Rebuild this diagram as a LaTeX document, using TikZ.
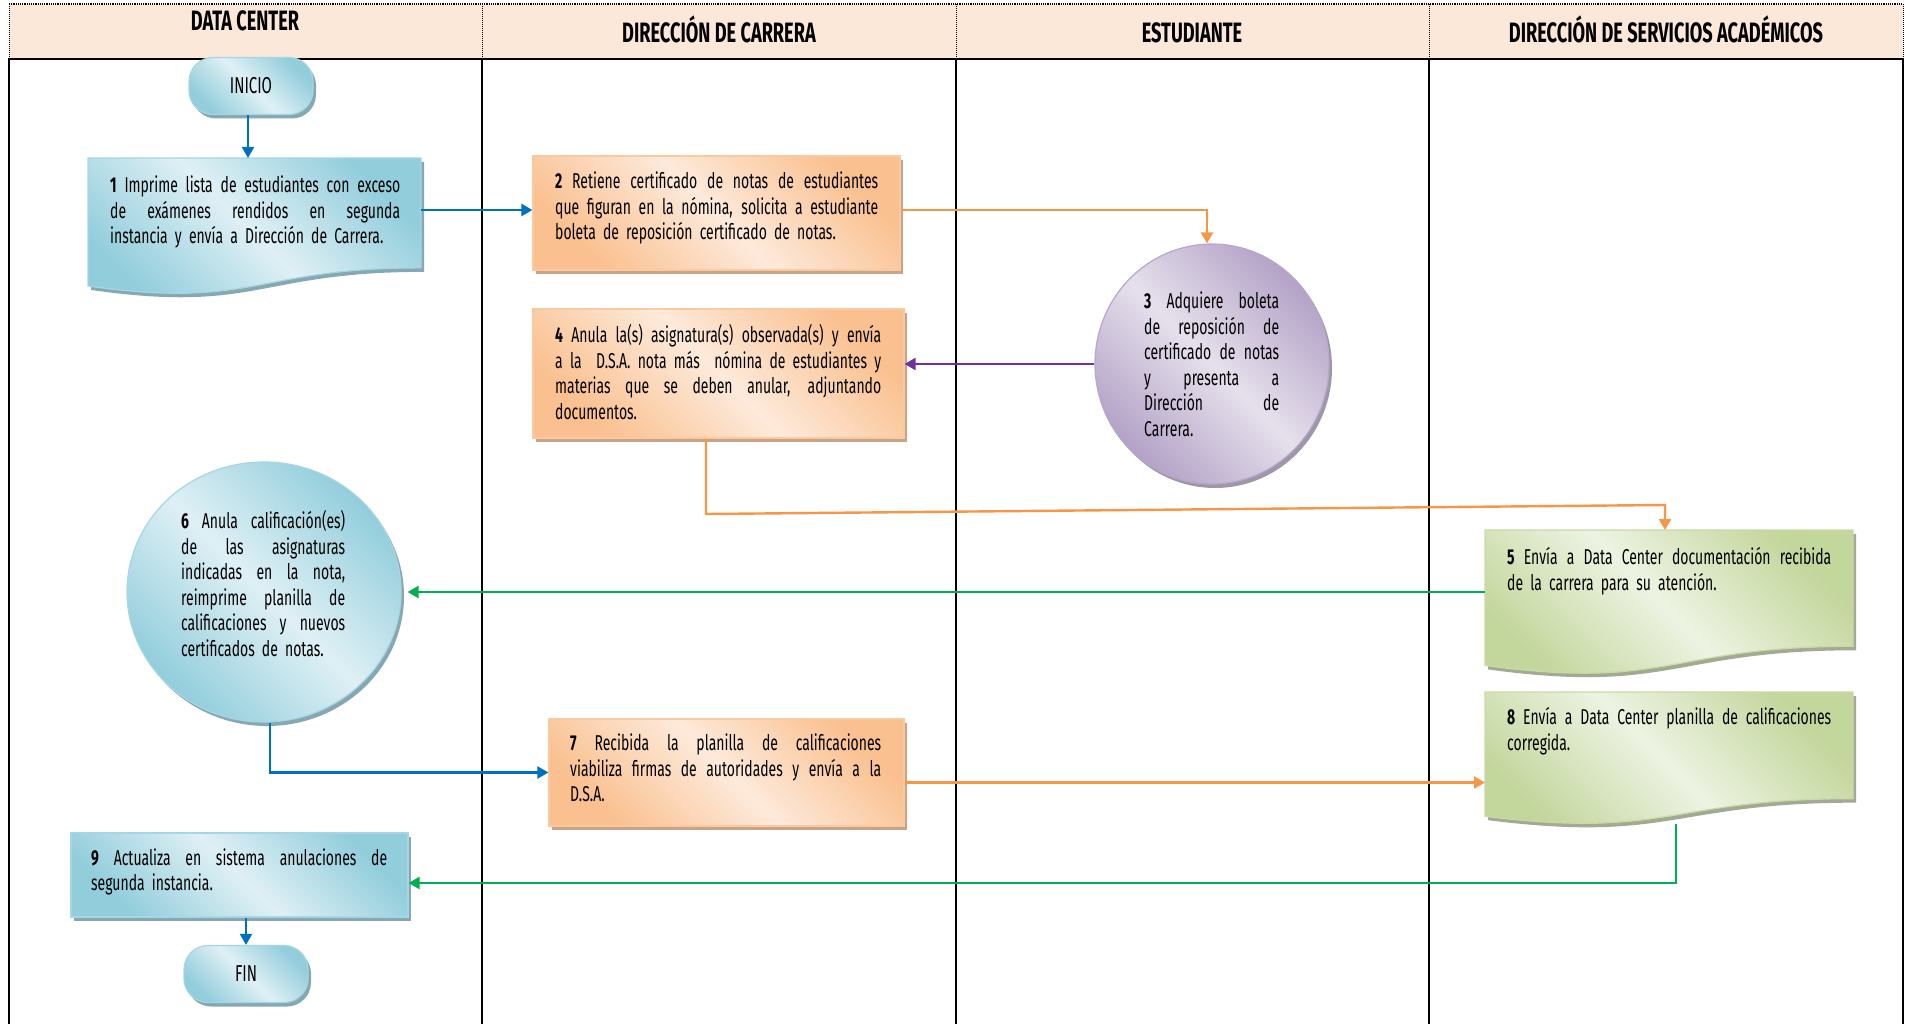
\documentclass[tikz,border=0pt]{standalone}
\usepackage{fontspec}
\setmainfont{Fira Sans}[FakeStretch=0.65]
\usetikzlibrary{arrows.meta,shapes.geometric,shadows}

\definecolor{hdrfill}{HTML}{FCE8D8}
\definecolor{bluedark}{HTML}{92CDDC}
\definecolor{bluelight}{HTML}{DFF0F5}
\definecolor{blueedge}{HTML}{A6D6E3}
\definecolor{blueshadow}{HTML}{86A8B3}
\definecolor{orangedark}{HTML}{FAC08F}
\definecolor{orangelight}{HTML}{FDEADB}
\definecolor{orangeedge}{HTML}{FBC9A0}
\definecolor{orangeshadow}{HTML}{C9A386}
\definecolor{purpledark}{HTML}{B3A2C7}
\definecolor{purplelight}{HTML}{E6E0EC}
\definecolor{purpleedge}{HTML}{B7A7CB}
\definecolor{purpleshadow}{HTML}{9E97A8}
\definecolor{greendark}{HTML}{C3D69B}
\definecolor{greenlight}{HTML}{EDF3E2}
\definecolor{greenedge}{HTML}{C9DAA5}
\definecolor{greenshadow}{HTML}{A3AA94}
\definecolor{cblue}{HTML}{0070C0}
\definecolor{corange}{HTML}{F79646}
\definecolor{cpurple}{HTML}{7030A0}
\definecolor{cgreen}{HTML}{00B050}

% justified line of a text block (block width is kept in \tw)
\newcommand\tw{100pt}
\newcommand\jl[1]{\makebox[\tw][s]{\spaceskip=\fontdimen2\font plus 1fil\relax#1}\\}

% flowchart "document" symbol: colour family, x0, y0, width, height
\newcommand\flowdoc[5]{%
  \fill[#1shadow, shift={(3pt,-4pt)}]
    (#2,#3) -- (#2+#4,#3) -- (#2+#4,#3+0.802*#5)
    .. controls (#2+0.5*#4,#3+0.802*#5) and (#2+0.5*#4,#3+1.1075*#5) .. (#2,#3+0.934*#5) -- cycle;
  \path[draw=#1edge, line width=1.2pt, top color=#1dark, bottom color=#1dark,
        middle color=#1light, shading angle=-45]
    (#2,#3) -- (#2+#4,#3) -- (#2+#4,#3+0.802*#5)
    .. controls (#2+0.5*#4,#3+0.802*#5) and (#2+0.5*#4,#3+1.1075*#5) .. (#2,#3+0.934*#5) -- cycle;
}

\tikzset{
  fill3/.style={draw=#1edge, line width=1.2pt, top color=#1dark, bottom color=#1dark,
        middle color=#1light, shading angle=-45,
        general shadow={fill=#1shadow, shadow xshift=3pt, shadow yshift=-4pt}},
  procbox/.style={rectangle, inner sep=0, fill3=#1},
  oval/.style={ellipse, inner sep=0, fill3=#1},
  term/.style={rectangle, rounded corners=24pt, inner sep=0, minimum width=124pt,
        minimum height=57pt, fill3=blue, font=\fontsize{23}{25}\selectfont},
  txt/.style={anchor=base west, inner sep=0, align=left, text width=#1,
        execute at begin node={\renewcommand\tw{#1}},
        font=\fontsize{21.5}{25.6}\selectfont},
  lanehead/.style={font=\bfseries\fontsize{28}{30}\selectfont, inner sep=0, anchor=base},
  docanchor/.style={inner sep=0, anchor=north west, draw=none},
  flow/.style={line width=2.4pt, draw=#1, -{Triangle[length=11pt,width=12pt]}},
}

\begin{document}
\begin{tikzpicture}[x=1pt,y=-1pt]
\useasboundingbox (0,0) rectangle (1910,1024);
\fill[white] (0,0) rectangle (1910,1024);

% lane headers
\fill[hdrfill] (9,4) rectangle (1903,59);
\draw[line width=1.2pt, densely dotted] (9,4) -- (1903,4);
\foreach \x in {9,482,956,1429,1903}{
  \draw[line width=1pt, densely dotted] (\x,4) -- (\x,59);
  \draw[line width=1.6pt] (\x,59) -- (\x,1024);
}
\draw[line width=2.4pt] (8,59) -- (1904,59);
\node[lanehead] (h1) at (245,30.5) {DATA CENTER};
\node[lanehead] (h2) at (719,42.5) {DIRECCIÓN DE CARRERA};
\node[lanehead] (h3) at (1192,42.5) {ESTUDIANTE};
\node[lanehead] (h4) at (1666,42.5) {DIRECCIÓN DE SERVICIOS ACADÉMICOS};

% start and end
\node[term] (ini) at (251,86) {INICIO};
\node[term] (fin) at (246,974) {FIN};

% document symbols
\flowdoc{blue}{88}{158}{333}{137}
\node[docanchor, minimum width=333pt, minimum height=110pt] (d1) at (88,158) {};
\flowdoc{green}{1485}{530}{368}{145}
\node[docanchor, minimum width=368pt, minimum height=116pt] (d5) at (1485,530) {};
\flowdoc{green}{1485}{692}{368}{133}
\node[docanchor, minimum width=368pt, minimum height=107pt] (d8) at (1485,692) {};

% process boxes
\node[procbox=orange, minimum width=367pt, minimum height=114pt] (b2) at (716.5,213) {};
\node[procbox=orange, minimum width=371pt, minimum height=129pt] (b4) at (718.5,373.5) {};
\node[procbox=orange, minimum width=355pt, minimum height=107pt] (b7) at (726.5,772.5) {};
\node[procbox=blue, minimum width=337pt, minimum height=84pt] (b9) at (239.5,875) {};

% ovals
\node[oval=purple, minimum width=234pt, minimum height=240pt] (c3) at (1212,364) {};
\node[oval=blue, minimum width=274pt, minimum height=260pt] (c6) at (264,592) {};

% step texts
\node[txt=290pt] (t1) at (110,192.5) {%
  \jl{\textbf{1} Imprime lista de estudiantes con exceso}
  \jl{de exámenes rendidos en segunda}
  instancia y envía a Dirección de Carrera.};
\node[txt=323pt] (t2) at (555,188.5) {%
  \jl{\textbf{2} Retiene certificado de notas de estudiantes}
  \jl{que figuran en la nómina, solicita a estudiante}
  boleta de reposición certificado de notas.};
\node[txt=135pt] (t3) at (1144,308.5) {%
  \jl{\textbf{3} Adquiere boleta}
  \jl{de reposición de}
  \jl{certificado de notas}
  \jl{y presenta a}
  \jl{Dirección de}
  Carrera.};
\node[txt=326pt] (t4) at (555,342.5) {%
  \jl{\textbf{4} Anula la(s) asignatura(s) observada(s) y envía}
  \jl{a la \ D.S.A. nota más \ nómina de estudiantes y}
  \jl{materias que se deben anular, adjuntando}
  documentos.};
\node[txt=324pt] (t5) at (1507,564.5) {%
  \jl{\textbf{5} Envía a Data Center documentación recibida}
  de la carrera para su atención.};
\node[txt=164pt] (t6) at (181,528.5) {%
  \jl{\textbf{6} Anula calificación(es)}
  \jl{de las asignaturas}
  \jl{indicadas en la nota,}
  \jl{reimprime planilla de}
  \jl{calificaciones y nuevos}
  certificados de notas.};
\node[txt=311pt] (t7) at (570,750.5) {%
  \jl{\textbf{7} Recibida la planilla de calificaciones}
  \jl{viabiliza firmas de autoridades y envía a la}
  D.S.A.};
\node[txt=324pt] (t8) at (1507,724.5) {%
  \jl{\textbf{8} Envía a Data Center planilla de calificaciones}
  corregida.};
\node[txt=296pt] (t9) at (91,865) {%
  \jl{\textbf{9} Actualiza en sistema anulaciones de}
  segunda instancia.};

% connector bends
\coordinate (j1) at (706,514);
\coordinate (j2) at (1665,505);
\coordinate (k8) at (1676,824);

% connectors
\draw[flow=cblue, line width=2pt] (ini.south -| 248,0) -- (248,0 |- d1.north);
\draw[flow=cblue] (d1.east |- 0,210) -- (b2.west |- 0,210);
\draw[flow=corange] (b2.east |- 0,210) -| (c3.north -| 1207,0);
\draw[flow=cpurple] (c3.west) -- (c3.west -| b4.east);
\draw[flow=corange] (b4.south -| j1) -- (j1) -- (j2) -- (j2 |- d5.north);
\draw[flow=cgreen] (d5.west |- c6.east) -- ([xshift=6pt]c6.east);
\draw[flow=cblue] (c6.south -| 270,0) |- (b7.west);
\draw[flow=corange] ([yshift=-10pt]b7.east) -- ([yshift=-10pt]b7.east -| d8.west);
\draw[flow=cgreen] (k8) |- ([yshift=-8pt]b9.east);
\draw[flow=cblue, line width=2pt] (fin.north |- b9.south) -- (fin.north);
\end{tikzpicture}
\end{document}
